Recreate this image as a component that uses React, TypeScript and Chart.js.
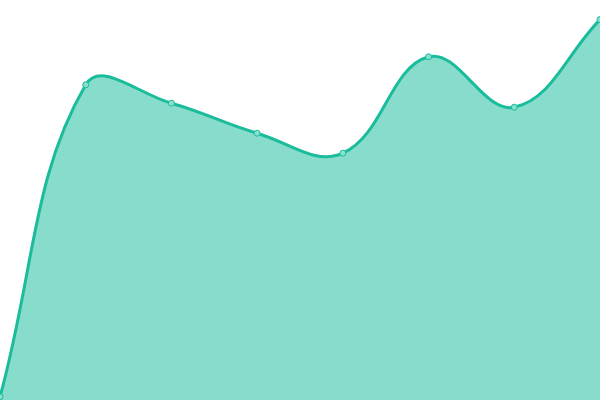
import { useEffect, useRef } from 'react';
import { Chart, registerables } from 'chart.js';

Chart.register(...registerables);

const labels = ['1', '2', '3', '4', '5', '6', '7', '8'];
const values = [0.8, 78.8, 74.2, 66.7, 61.7, 85.8, 73.2, 95.1];

export default function App() {
    const chartRef = useRef<HTMLCanvasElement>(null);

    useEffect(() => {
        document.body.style.margin = '0';
        if (!chartRef.current) return;
        const chart = new Chart(chartRef.current, {
            type: 'line',
            data: {
                labels,
                datasets: [
                    {
                        data: values,
                        borderColor: '#1abc9c',
                        backgroundColor: 'rgba(26,188,156,0.52)',
                        borderWidth: 3,
                        fill: 'start',
                        tension: 0.4,
                        clip: false,
                        pointRadius: 3,
                        pointBorderWidth: 1,
                        pointBackgroundColor: '#88e0cf',
                        pointBorderColor: '#1abc9c',
                    },
                ],
            },
            options: {
                animation: false,
                responsive: true,
                maintainAspectRatio: false,
                layout: { padding: 0 },
                plugins: {
                    legend: { display: false },
                    tooltip: { enabled: false },
                },
                scales: {
                    x: { display: false },
                    y: { display: false, min: 0, max: 100 },
                },
            },
        });
        return () => chart.destroy();
    }, []);

    // canvas is 5px larger on each side so the plot reaches the page edges
    return (
        <div style={{ width: 600, height: 400, overflow: 'hidden' }}>
            <div style={{ width: 610, height: 410, margin: -5 }}>
                <canvas ref={chartRef} />
            </div>
        </div>
    );
}
